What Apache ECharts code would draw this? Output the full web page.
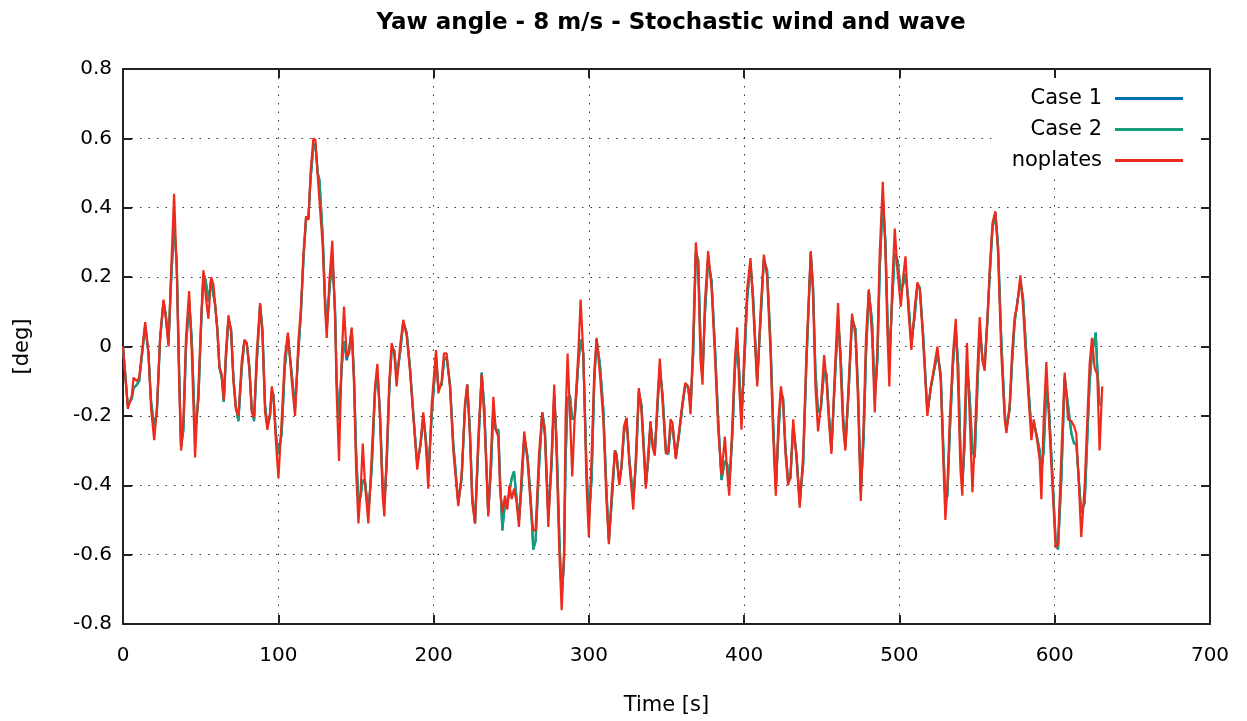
<!DOCTYPE html>
<html>
<head>
<meta charset="utf-8">
<script src="https://cdn.jsdelivr.net/npm/echarts@6/dist/echarts.min.js"></script>
<style>
html,body{margin:0;padding:0;background:#fff;}
#chart{width:1247px;height:721px;}
</style>
</head>
<body>
<div id="chart"></div>
<script>
// Time [s]
const time = [
0,3.1,5.7,6.8,8.9,10.4,12.1,14.3,16.4,18.1,20.1,21.8,23.9,26.1,27.6,29.3,31.0,32.9,34.6,36.2,
37.4,38.9,40.6,42.6,44.3,46.4,48.6,50.3,51.8,53.3,55.0,56.7,58.2,59.3,60.8,62.1,63.6,64.9,66.2,67.9,
69.6,71.1,72.6,74.3,76.5,78.2,79.7,81.4,82.9,84.4,86.1,88.3,89.8,91.5,93.0,94.7,95.8,96.9,98.4,100.1,
102.2,104.2,106.2,108.7,110.8,113.0,114.5,116.2,117.9,119.4,120.9,122.6,123.9,125.4,126.5,128.6,130.1,131.2,132.9,134.8,
136.6,137.6,139.1,140.8,142.3,144.1,145.6,147.3,148.8,150.1,151.6,153.1,154.4,155.9,158.0,160.2,162.3,163.8,165.5,167.2,
168.3,169.8,171.5,173.0,174.7,176.2,178.4,180.5,182.7,184.8,187.4,189.5,191.7,193.4,195.1,196.6,198.8,201.6,203.1,205.2,
206.7,208.4,210.6,212.7,215.9,218.1,220.2,221.7,223.4,224.9,226.7,228.8,231.0,232.7,235.2,237.0,238.5,240.0,241.7,242.8,
244.3,246.0,247.5,248.8,250.3,251.8,253.5,255.0,256.7,258.4,260.6,262.7,264.2,265.7,267.9,270.0,271.7,273.9,276.0,277.7,
279.2,281.0,282.5,284.0,285.0,286.3,287.8,289.3,291.0,293.2,294.7,296.4,298.5,300.0,301.8,303.5,305.0,307.1,309.3,311.4,
312.9,315.0,316.8,317.8,319.6,321.0,322.6,324.3,326.0,328.6,330.3,332.2,333.9,335.4,336.7,338.2,339.7,341.0,342.5,344.0,
345.7,347.5,349.6,351.1,352.6,353.9,356.0,358.2,360.3,362.1,364.0,365.5,367.2,368.9,370.4,371.9,373.2,374.7,376.8,379.0,
381.1,383.3,385.4,387.6,389.1,390.4,392.5,394.0,395.5,396.8,398.3,400.0,402.0,404.1,405.8,408.4,410.5,412.7,414.8,417.0,
418.7,420.4,422.1,423.7,425.1,426.6,428.3,429.8,431.6,433.7,435.8,438.0,440.1,442.9,444.4,445.9,447.6,449.4,451.5,453.0,
454.5,456.2,458.4,460.5,462.2,463.7,465.2,467.4,469.5,471.7,473.4,475.1,477.0,478.5,480.3,482.4,484.1,485.8,487.3,489.3,
491.0,492.2,493.5,495.3,497.0,498.7,500.9,502.4,503.9,505.6,507.7,509.9,511.6,513.1,515.2,518.0,520.2,522.3,524.5,526.6,
528.1,529.6,530.9,532.4,534.5,536.3,537.8,539.3,540.5,542.0,543.5,545.3,547.0,548.5,550.2,551.7,553.4,554.9,556.6,558.1,
559.9,561.8,563.5,565.6,567.8,568.9,571.0,572.5,574.2,575.7,577.9,579.6,581.3,583.4,585.0,586.5,588.6,590.3,591.4,592.9,
594.6,596.3,598.5,600.6,602.1,604.3,606.4,608.6,610.7,612.5,613.9,616.1,617.1,619.3,621.4,622.5,624.0,625.7,626.4,627.4,
628.9,630.6
];

// noplates [deg]
const noplates = [
0.00,-0.18,-0.14,-0.09,-0.10,-0.09,-0.02,0.07,-0.02,-0.18,-0.27,-0.18,0.03,0.135,0.08,0.00,0.22,0.44,0.22,-0.115,
-0.30,-0.21,0.03,0.16,-0.02,-0.32,-0.115,0.077,0.22,0.145,0.08,0.20,0.18,0.125,0.04,-0.06,-0.08,-0.155,-0.02,0.09,
0.04,-0.10,-0.18,-0.20,-0.04,0.02,0.01,-0.07,-0.19,-0.205,-0.02,0.125,0.03,-0.19,-0.24,-0.19,-0.115,-0.145,-0.27,-0.38,
-0.21,-0.03,0.04,-0.10,-0.20,0.02,0.105,0.27,0.375,0.365,0.51,0.60,0.595,0.49,0.495,0.29,0.115,0.025,0.19,0.305,
0.075,-0.135,-0.33,-0.04,0.115,-0.03,-0.02,0.055,-0.115,-0.355,-0.51,-0.41,-0.28,-0.40,-0.51,-0.31,-0.115,-0.05,-0.21,-0.43,
-0.49,-0.31,-0.10,0.01,-0.02,-0.115,0.00,0.077,0.03,-0.07,-0.23,-0.355,-0.27,-0.19,-0.29,-0.41,-0.165,-0.01,-0.135,-0.10,
-0.02,-0.02,-0.12,-0.30,-0.46,-0.365,-0.165,-0.11,-0.26,-0.45,-0.51,-0.26,-0.08,-0.21,-0.49,-0.31,-0.145,-0.24,-0.26,-0.41,
-0.48,-0.43,-0.47,-0.40,-0.44,-0.41,-0.45,-0.52,-0.365,-0.245,-0.335,-0.47,-0.53,-0.53,-0.31,-0.19,-0.26,-0.52,-0.31,-0.11,
-0.31,-0.595,-0.76,-0.595,-0.21,-0.02,-0.19,-0.375,-0.19,-0.02,0.135,-0.02,-0.40,-0.55,-0.31,-0.07,0.025,-0.08,-0.21,-0.45,
-0.57,-0.40,-0.30,-0.32,-0.40,-0.345,-0.23,-0.205,-0.335,-0.47,-0.31,-0.12,-0.19,-0.31,-0.41,-0.31,-0.215,-0.29,-0.315,-0.165,
-0.035,-0.165,-0.31,-0.30,-0.21,-0.22,-0.325,-0.24,-0.16,-0.105,-0.115,-0.195,0.03,0.30,0.22,-0.04,-0.11,0.125,0.275,0.17,
-0.02,-0.24,-0.37,-0.26,-0.365,-0.43,-0.21,-0.04,0.055,-0.115,-0.24,-0.02,0.17,0.255,0.115,-0.115,0.095,0.265,0.20,-0.02,
-0.26,-0.43,-0.21,-0.115,-0.165,-0.31,-0.40,-0.375,-0.21,-0.325,-0.465,-0.31,-0.02,0.275,0.145,-0.115,-0.245,-0.17,-0.025,-0.095,
-0.21,-0.31,-0.07,0.125,-0.07,-0.23,-0.30,-0.095,0.095,0.03,-0.165,-0.445,-0.21,0.03,0.165,0.03,-0.19,0.00,0.27,0.475,
0.27,0.05,-0.115,0.17,0.34,0.22,0.115,0.20,0.26,0.115,-0.01,0.115,0.185,0.165,0.02,-0.20,-0.115,-0.06,0.00,-0.10,
-0.31,-0.50,-0.40,-0.21,-0.02,0.08,-0.115,-0.355,-0.43,-0.21,0.01,-0.21,-0.42,-0.27,-0.07,0.085,-0.04,-0.07,0.077,0.22,
0.355,0.39,0.27,-0.02,-0.21,-0.25,-0.165,-0.02,0.085,0.115,0.205,0.115,-0.02,-0.165,-0.27,-0.21,-0.27,-0.325,-0.44,-0.21,
-0.045,-0.21,-0.40,-0.58,-0.57,-0.31,-0.075,-0.21,-0.215,-0.23,-0.25,-0.45,-0.55,-0.40,-0.165,-0.05,0.025,-0.06,-0.07,-0.08,
-0.30,-0.115
];

// Case 2 [deg]
const case2 = [
0.00,-0.17,-0.15,-0.12,-0.11,-0.10,-0.03,0.06,-0.02,-0.16,-0.23,-0.19,0.02,0.13,0.09,0.01,0.19,0.35,0.24,-0.08,
-0.29,-0.24,0.00,0.13,0.02,-0.25,-0.15,0.06,0.21,0.19,0.13,0.19,0.15,0.12,0.05,-0.06,-0.09,-0.16,-0.04,0.08,
0.05,-0.09,-0.17,-0.215,-0.06,0.015,0.01,-0.06,-0.18,-0.215,-0.05,0.12,0.05,-0.17,-0.23,-0.20,-0.13,-0.14,-0.25,-0.31,
-0.25,-0.06,0.03,-0.08,-0.18,-0.01,0.09,0.25,0.37,0.37,0.49,0.575,0.585,0.50,0.48,0.32,0.14,0.05,0.16,0.26,
0.10,-0.10,-0.21,-0.06,0.015,-0.03,-0.01,0.05,-0.09,-0.30,-0.45,-0.43,-0.385,-0.39,-0.48,-0.35,-0.13,-0.07,-0.19,-0.40,
-0.45,-0.34,-0.12,-0.01,-0.01,-0.09,-0.02,0.07,0.04,-0.06,-0.22,-0.34,-0.28,-0.20,-0.27,-0.37,-0.20,-0.03,-0.12,-0.11,
-0.04,-0.03,-0.11,-0.28,-0.45,-0.38,-0.18,-0.11,-0.24,-0.43,-0.51,-0.29,-0.075,-0.18,-0.48,-0.35,-0.18,-0.24,-0.24,-0.38,
-0.53,-0.45,-0.45,-0.42,-0.38,-0.36,-0.44,-0.50,-0.40,-0.26,-0.32,-0.45,-0.585,-0.56,-0.35,-0.19,-0.24,-0.49,-0.34,-0.14,
-0.27,-0.55,-0.72,-0.62,-0.33,-0.15,-0.14,-0.21,-0.20,-0.05,0.02,-0.02,-0.35,-0.50,-0.38,-0.10,0.02,-0.05,-0.18,-0.42,
-0.56,-0.43,-0.30,-0.31,-0.39,-0.35,-0.25,-0.21,-0.32,-0.44,-0.34,-0.13,-0.17,-0.29,-0.40,-0.33,-0.22,-0.28,-0.30,-0.19,
-0.06,-0.14,-0.30,-0.31,-0.24,-0.23,-0.32,-0.25,-0.17,-0.11,-0.12,-0.17,-0.02,0.27,0.25,0.02,-0.08,0.09,0.25,0.19,
0.01,-0.21,-0.385,-0.33,-0.34,-0.40,-0.25,-0.07,0.02,-0.07,-0.20,-0.06,0.14,0.24,0.14,-0.10,0.07,0.25,0.22,0.01,
-0.22,-0.41,-0.25,-0.13,-0.15,-0.29,-0.39,-0.38,-0.23,-0.31,-0.45,-0.34,-0.05,0.27,0.17,-0.07,-0.19,-0.18,-0.07,-0.08,
-0.19,-0.30,-0.10,0.08,-0.03,-0.20,-0.29,-0.12,0.08,0.05,-0.13,-0.42,-0.26,-0.02,0.16,0.07,-0.15,-0.04,0.22,0.43,
0.30,0.10,-0.04,0.13,0.27,0.25,0.16,0.18,0.21,0.14,0.01,0.09,0.18,0.17,0.04,-0.19,-0.12,-0.07,-0.02,-0.08,
-0.27,-0.45,-0.43,-0.25,-0.05,0.05,-0.05,-0.30,-0.40,-0.28,-0.05,-0.15,-0.30,-0.32,-0.12,0.05,-0.03,-0.05,0.07,0.20,
0.34,0.385,0.29,0.02,-0.19,-0.24,-0.18,-0.05,0.07,0.12,0.19,0.14,0.01,-0.14,-0.24,-0.22,-0.26,-0.30,-0.36,-0.30,
-0.12,-0.18,-0.37,-0.56,-0.585,-0.38,-0.09,-0.17,-0.25,-0.28,-0.28,-0.42,-0.48,-0.45,-0.22,-0.10,-0.02,0.02,0.04,-0.06,
-0.17,null
];

// Case 1 [deg] (almost entirely hidden under Case 2)
const case1 = [
0.00,-0.17,-0.15,-0.12,-0.11,-0.10,-0.03,0.06,-0.02,-0.16,-0.23,-0.19,0.02,0.13,0.09,0.01,0.19,0.35,0.24,-0.08,
-0.29,-0.24,0.00,0.13,0.02,-0.25,-0.15,0.06,0.21,0.19,0.13,0.19,0.15,0.12,0.05,-0.06,-0.09,-0.16,-0.04,0.08,
0.05,-0.09,-0.17,-0.215,-0.06,0.015,0.01,-0.06,-0.18,-0.215,-0.05,0.12,0.05,-0.17,-0.23,-0.20,-0.13,-0.14,-0.25,-0.31,
-0.25,-0.06,0.03,-0.08,-0.18,-0.01,0.09,0.25,0.37,0.37,0.49,0.575,0.585,0.50,0.48,0.32,0.14,0.05,0.16,0.26,
0.10,-0.10,-0.21,-0.06,0.015,-0.04,-0.01,0.05,-0.09,-0.30,-0.45,-0.43,-0.385,-0.39,-0.48,-0.35,-0.13,-0.07,-0.19,-0.40,
-0.45,-0.34,-0.12,-0.01,-0.01,-0.09,-0.02,0.07,0.04,-0.06,-0.22,-0.34,-0.28,-0.20,-0.27,-0.37,-0.20,-0.03,-0.12,-0.11,
-0.04,-0.03,-0.11,-0.28,-0.45,-0.38,-0.18,-0.11,-0.24,-0.43,-0.51,-0.29,-0.075,-0.18,-0.48,-0.35,-0.18,-0.24,-0.24,-0.38,
-0.53,-0.45,-0.45,-0.42,-0.38,-0.36,-0.44,-0.50,-0.40,-0.26,-0.32,-0.45,-0.585,-0.56,-0.35,-0.19,-0.24,-0.49,-0.34,-0.14,
-0.27,-0.55,-0.72,-0.62,-0.33,-0.15,-0.14,-0.21,-0.20,-0.05,0.02,-0.02,-0.35,-0.50,-0.38,-0.10,0.02,-0.05,-0.18,-0.42,
-0.56,-0.43,-0.30,-0.31,-0.39,-0.35,-0.25,-0.21,-0.32,-0.44,-0.34,-0.13,-0.17,-0.29,-0.40,-0.33,-0.22,-0.28,-0.30,-0.19,
-0.06,-0.14,-0.30,-0.31,-0.24,-0.23,-0.32,-0.25,-0.17,-0.11,-0.12,-0.17,-0.02,0.27,0.25,0.02,-0.08,0.09,0.25,0.19,
0.01,-0.21,-0.385,-0.33,-0.34,-0.40,-0.25,-0.07,0.02,-0.07,-0.20,-0.06,0.14,0.24,0.14,-0.10,0.07,0.25,0.22,0.01,
-0.22,-0.41,-0.25,-0.13,-0.15,-0.29,-0.39,-0.38,-0.23,-0.31,-0.45,-0.34,-0.05,0.27,0.17,-0.07,-0.19,-0.18,-0.07,-0.08,
-0.19,-0.30,-0.10,0.08,-0.03,-0.20,-0.29,-0.12,0.08,0.05,-0.13,-0.42,-0.26,-0.02,0.16,0.07,-0.15,-0.04,0.22,0.43,
0.30,0.10,-0.04,0.13,0.27,0.25,0.16,0.18,0.21,0.14,0.01,0.09,0.18,0.17,0.04,-0.19,-0.12,-0.07,-0.02,-0.08,
-0.27,-0.45,-0.43,-0.25,-0.05,0.05,-0.05,-0.30,-0.40,-0.28,-0.05,-0.15,-0.30,-0.32,-0.12,0.05,-0.03,-0.05,0.07,0.20,
0.34,0.385,0.29,0.02,-0.19,-0.24,-0.18,-0.05,0.07,0.12,0.19,0.14,0.01,-0.14,-0.24,-0.22,-0.26,-0.30,-0.36,-0.30,
-0.12,-0.18,-0.37,-0.56,-0.585,-0.38,-0.09,-0.17,-0.25,-0.28,-0.28,-0.42,-0.48,-0.45,-0.22,-0.10,-0.02,0.02,0.04,-0.06,
-0.17,null
];

const seriesNames = ['Case 1', 'Case 2', 'noplates'];
const seriesColors = ['#0072b2', '#159e78', '#ee2a1c'];
const xTicks = {min: 0, max: 700, interval: 100};
const yTicks = {min: -0.8, max: 0.8, interval: 0.2};

function pairs(vals) { return time.map((t, i) => [t, vals[i]]); }

const FONT = 'DejaVu Sans';
const chart = echarts.init(document.getElementById('chart'), null, {renderer: 'canvas'});

const gridLine = {show: true, lineStyle: {color: '#333', type: [1.5, 7], width: 1}};
const frameLine = {show: true, onZero: false, lineStyle: {color: '#222', width: 2}};
const tickIn = {show: true, inside: true, length: 9, lineStyle: {color: '#222', width: 2}};

chart.setOption({
  animation: false,
  backgroundColor: '#fff',
  title: {
    text: 'Yaw angle - 8 m/s - Stochastic wind and wave',
    left: 666, top: 7, textAlign: 'center',
    textStyle: {fontFamily: FONT, fontWeight: 'bold', fontSize: 23, color: '#000'}
  },
  grid: {left: 123, right: 37, top: 69, bottom: 97, containLabel: false},
  legend: {
    right: 37, top: 69, z: 4,
    orient: 'vertical', align: 'right',
    padding: [19, 27, 3, 20],
    backgroundColor: '#fff',
    itemWidth: 68, itemHeight: 3, itemGap: 10,
    icon: 'rect',
    textStyle: {fontFamily: FONT, fontSize: 21, color: '#000', padding: [0, 8, 0, 0]},
    data: seriesNames
  },
  xAxis: [
    {type: 'value', min: xTicks.min, max: xTicks.max, interval: xTicks.interval, position: 'bottom', z: 0,
     name: 'Time [s]', nameLocation: 'middle', nameGap: 71,
     nameTextStyle: {fontFamily: FONT, fontSize: 21, color: '#000'},
     axisLine: frameLine, axisTick: tickIn, splitLine: gridLine,
     axisLabel: {fontFamily: FONT, fontSize: 20, color: '#000', margin: 22}},
    {type: 'value', min: xTicks.min, max: xTicks.max, interval: xTicks.interval, position: 'top', z: 10,
     axisLine: frameLine, axisTick: tickIn, splitLine: {show: false}, axisLabel: {show: false}}
  ],
  yAxis: [
    {type: 'value', min: yTicks.min, max: yTicks.max, interval: yTicks.interval, position: 'left', z: 0,
     name: '[deg]', nameLocation: 'middle', nameGap: 90, nameRotate: 90,
     nameTextStyle: {fontFamily: FONT, fontSize: 21, color: '#000'},
     axisLine: frameLine, axisTick: tickIn, splitLine: gridLine,
     axisLabel: {fontFamily: FONT, fontSize: 20, color: '#000', margin: 11}},
    {type: 'value', min: yTicks.min, max: yTicks.max, interval: yTicks.interval, position: 'right', z: 10,
     axisLine: frameLine, axisTick: tickIn, splitLine: {show: false}, axisLabel: {show: false}}
  ],
  series: seriesNames.map((name, i) => ({
    name: name, type: 'line', xAxisIndex: 0, yAxisIndex: 0,
    data: pairs([case1, case2, noplates][i]),
    showSymbol: false, symbol: 'none', smooth: false, connectNulls: false,
    lineStyle: {width: 2.2, color: seriesColors[i]},
    itemStyle: {color: seriesColors[i]},
    z: 2 + i
  }))
});
</script>
</body>
</html>
